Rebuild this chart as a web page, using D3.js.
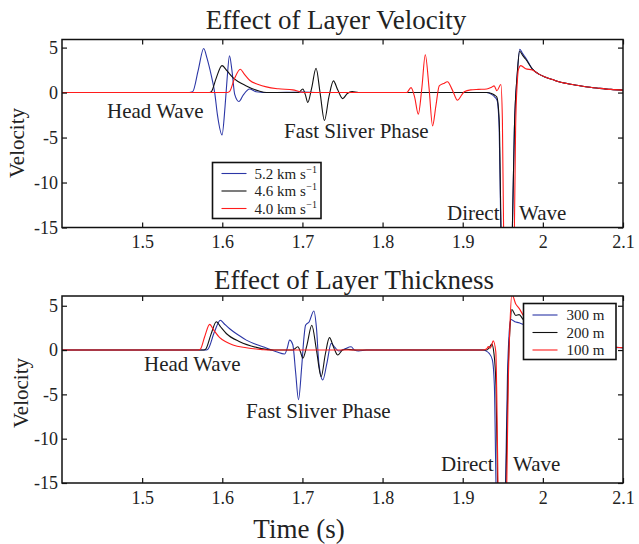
<!DOCTYPE html>
<html>
<head>
<meta charset="utf-8">
<script src="https://cdn.jsdelivr.net/npm/d3@7"></script>
<style>
  body { margin: 0; background: #fff; }
  #chart { width: 639px; height: 544px; }
  text { font-family: "Liberation Serif", "Times New Roman", serif; fill: #222; }
</style>
</head>
<body>
<div id="chart"></div>
<script>
//Colores fijos
const COLOR_BLUE = '#2b36a6',
COLOR_BLACK = '#111111',
COLOR_RED = '#ff1c1c';

//Ejes
const xTicks = [1.5, 1.6, 1.7, 1.8, 1.9, 2.0, 2.1];
const xTickLabels = ['1.5', '1.6', '1.7', '1.8', '1.9', '2', '2.1'];
const yTicks = [-15, -10, -5, 0, 5];
const yTickLabels = ['-15', '-10', '-5', '0', '5'];

//Panel 1: velocidad de la capa [tiempo, velocidad]
const velocityLabels = ['5.2 km s', '4.6 km s', '4.0 km s'];
const vel52 = [[1.40,0],[1.555,0],[1.563,0.1],[1.570,2.5],[1.5768,4.9],[1.581,3.8],[1.585,2.4],[1.588,1.2],[1.5905,0],
  [1.594,-2.5],[1.5997,-4.7],[1.6035,-1.5],[1.606,1.5],[1.609,4.1],[1.612,2.5],[1.6155,-0.2],[1.6208,-1.0],[1.626,-0.3],
  [1.634,0.4],[1.642,0.1],[1.66,0],[1.70,0.05],[1.72,0],[1.93,0],[1.936,-0.2],[1.940,-0.5],[1.943,-0.9],[1.9455,-4],
  [1.9475,-15],[1.955,-30],[1.962,-15],[1.9645,-4],[1.968,2],[1.9712,4.8],[1.975,4.3],[1.9787,3.85],[1.987,2.6],
  [1.995,2.05],[2.0036,1.7],[2.012,1.45],[2.02,1.2],[2.03,1.0],[2.04,0.85],[2.0534,0.65],[2.07,0.48],[2.085,0.35],[2.1,0.27]];
const vel46 = [[1.40,0],[1.584,0],[1.5864,0.1],[1.592,1.5],[1.5997,3.0],[1.606,2.4],[1.6133,1.67],[1.63,0.74],[1.645,0.2],
  [1.655,0],[1.695,0],[1.7005,0.4],[1.7035,-0.2],[1.7067,-1.1],[1.7115,0.5],[1.717,2.7],[1.722,0],[1.7275,-3.1],[1.733,-0.5],
  [1.7387,1.3],[1.744,0.3],[1.7503,-0.67],[1.756,-0.1],[1.762,0.1],[1.77,0],[1.93,0],[1.936,-0.1],[1.940,-0.3],[1.9425,-0.5],
  [1.9455,-3],[1.9478,-15],[1.955,-30],[1.962,-15],[1.9645,-4],[1.968,2],[1.971,4.6],[1.975,4.1],[1.9787,3.7],[1.987,2.6],
  [1.995,2.05],[2.0036,1.7],[2.012,1.45],[2.02,1.2],[2.03,1.0],[2.04,0.85],[2.0534,0.65],[2.07,0.48],[2.085,0.35],[2.1,0.27]];
const vel40 = [[1.40,0],[1.606,0],[1.609,0.1],[1.615,1.5],[1.6225,2.6],[1.627,2.1],[1.6341,1.37],[1.645,0.9],[1.655,0.63],
  [1.67,0.42],[1.688,0.3],[1.6964,0.1],[1.703,0],[1.83,0],[1.8355,0.55],[1.840,-0.5],[1.8446,-2.4],[1.849,0.5],[1.8533,4.2],
  [1.858,0.5],[1.8624,-3.7],[1.8665,-1.5],[1.8707,0.74],[1.876,1.0],[1.881,1.2],[1.887,0.3],[1.8935,-0.85],[1.8985,-0.3],
  [1.9019,0.1],[1.91,0.3],[1.92,0.35],[1.93,0.4],[1.936,0.6],[1.9392,0.75],[1.9426,0.2],[1.9476,0.9],[1.9495,-3],
  [1.951,-15],[1.958,-30],[1.9645,-15],[1.966,-4],[1.968,1],[1.9695,2.55],[1.9725,3.0],[1.9786,2.65],[1.987,2.5],
  [1.995,2.05],[2.0036,1.7],[2.012,1.45],[2.02,1.2],[2.03,1.0],[2.04,0.85],[2.0534,0.65],[2.07,0.48],[2.085,0.35],[2.1,0.27]];

//Panel 2: espesor de la capa [tiempo, velocidad]
const thicknessLabels = ['300 m', '200 m', '100 m'];
const thick300 = [[1.40,0],[1.58,0],[1.5822,0.1],[1.59,2.0],[1.5976,3.37],[1.602,3.0],[1.6092,2.4],[1.62,1.7],[1.63,1.12],
  [1.64,0.7],[1.6507,0.37],[1.66,0.05],[1.6674,-0.19],[1.6777,-0.45],[1.681,0.2],[1.684,1.12],[1.688,0.6],[1.6915,-2.5],
  [1.6951,-5.6],[1.699,-2],[1.702,1.5],[1.7039,2.8],[1.7085,3.2],[1.7142,4.4],[1.7175,2.5],[1.7205,-1.5],[1.7254,-3.37],
  [1.7305,-1.5],[1.7359,0.75],[1.7405,0.3],[1.7453,-0.1],[1.752,0.1],[1.7607,0.37],[1.765,0],[1.77,-0.1],[1.78,0],[1.925,0],
  [1.930,-0.15],[1.933,-0.37],[1.937,-1.1],[1.9395,-4],[1.9415,-15],[1.948,-30],[1.9535,-15],[1.9558,-3],[1.958,2],
  [1.96,3.45],[1.965,3.2],[1.9704,3.07],[1.975,2.9],[1.985,2.4],[1.995,1.9],[2.01,1.4],[2.03,0.95],[2.05,0.65],
  [2.07,0.45],[2.085,0.33],[2.1,0.27]];
const thick200 = [[1.40,0],[1.577,0],[1.5793,0.1],[1.586,1.8],[1.5926,3.2],[1.598,2.6],[1.605,1.87],[1.6217,0.94],[1.6425,0.3],
  [1.655,0.08],[1.665,0],[1.688,0],[1.6943,0.37],[1.6975,-0.2],[1.7005,-0.93],[1.7055,0.5],[1.7117,2.8],[1.7175,0],
  [1.7234,-3.0],[1.7285,-0.5],[1.7337,1.4],[1.739,0.3],[1.7441,-0.56],[1.75,0],[1.755,0.1],[1.765,0],[1.93,0],[1.9333,0.3],
  [1.9363,0.67],[1.939,-0.4],[1.9415,-4],[1.9435,-15],[1.949,-30],[1.954,-15],[1.9565,-3],[1.959,2.5],[1.9613,4.57],
  [1.9662,3.9],[1.9704,4.0],[1.975,3.5],[1.985,2.7],[1.995,2.1],[2.01,1.5],[2.03,1.0],[2.05,0.68],[2.07,0.46],
  [2.085,0.34],[2.1,0.27]];
const thick100 = [[1.40,0],[1.57,0],[1.5727,0.1],[1.578,1.5],[1.5843,2.9],[1.589,2.3],[1.5968,1.4],[1.605,0.9],[1.6133,0.56],
  [1.63,0.26],[1.65,0.05],[1.66,0],[1.925,0],[1.93,0.15],[1.932,0.4],[1.934,0.2],[1.936,0.5],[1.938,1.05],[1.9413,-0.2],
  [1.9425,-5],[1.944,-15],[1.950,-30],[1.955,-15],[1.957,-3],[1.959,3],[1.9613,6.3],[1.9662,5.2],[1.9704,4.7],[1.975,4.0],
  [1.985,2.9],[1.995,2.2],[2.01,1.55],[2.03,1.02],[2.05,0.7],[2.07,0.47],[2.085,0.35],[2.1,0.28]];

let svg = d3.select('#chart')
  .append('svg')
    .attr('width', 639)
    .attr('height', 544);

function drawPanel(p) {
  let x = d3.scaleLinear().domain([1.4, 2.1]).range([62, 623]);
  let y = d3.scaleLinear().domain(p.yDomain).range([p.bottom, p.top]);

  let g = svg.append('g');

  //Clip
  g.append('clipPath').attr('id', p.id)
    .append('rect')
      .attr('x', 62).attr('y', p.top)
      .attr('width', 561).attr('height', p.bottom - p.top);

  let line = d3.line()
    .x(function(d) { return x(d[0]); })
    .y(function(d) { return y(d[1]); })
    .curve(d3.curveMonotoneX);

  g.append('g').attr('clip-path', 'url(#' + p.id + ')')
    .selectAll('path')
    .data(p.series)
    .enter()
    .append('path')
      .attr('d', function(d) { return line(d.values); })
      .attr('fill', 'none')
      .attr('stroke', function(d) { return d.color; })
      .attr('stroke-width', 1.1);

  //Ejes (ticks hacia dentro en los cuatro lados)
  let tickLen = 5;
  g.append('g')
    .attr('transform', 'translate(0,' + p.bottom + ')')
    .call(d3.axisBottom(x).tickValues(xTicks).tickSize(-tickLen).tickPadding(8)
      .tickFormat(function(d, i) { return xTickLabels[i]; }))
    .call(styleAxis);
  g.append('g')
    .attr('transform', 'translate(0,' + p.top + ')')
    .call(d3.axisTop(x).tickValues(xTicks).tickSize(-tickLen).tickFormat(''))
    .call(styleAxis);
  g.append('g')
    .attr('transform', 'translate(62,0)')
    .call(d3.axisLeft(y).tickValues(yTicks).tickSize(-tickLen).tickPadding(4)
      .tickFormat(function(d, i) { return yTickLabels[i]; }))
    .call(styleAxis);
  g.append('g')
    .attr('transform', 'translate(623,0)')
    .call(d3.axisRight(y).tickValues(yTicks).tickSize(-tickLen).tickFormat(''))
    .call(styleAxis);

  g.append('rect')
    .attr('x', 62).attr('y', p.top)
    .attr('width', 561).attr('height', p.bottom - p.top)
    .attr('fill', 'none').attr('stroke', '#111').attr('stroke-width', 1.5);

  //Titulo
  g.append('text')
    .attr('x', p.titleX).attr('y', p.titleY)
    .attr('text-anchor', 'middle')
    .style('font-size', '27px')
    .text(p.title);

  //Etiqueta eje Y
  g.append('text')
    .attr('transform', 'translate(' + p.yLabelX + ',' + p.yLabelY + ') rotate(-90)')
    .attr('text-anchor', 'middle')
    .style('font-size', '21px')
    .text('Velocity');

  //Anotaciones
  g.selectAll('.note')
    .data(p.notes)
    .enter()
    .append('text')
      .attr('class', 'note')
      .attr('x', function(d) { return d.x; })
      .attr('y', function(d) { return d.y; })
      .style('font-size', '21px')
      .text(function(d) { return d.text; });

  //Leyenda
  let lg = g.append('g');
  lg.append('rect')
    .attr('x', p.legend.x).attr('y', p.legend.y)
    .attr('width', p.legend.w).attr('height', p.legend.h)
    .attr('fill', '#fff').attr('stroke', '#111').attr('stroke-width', 1.6);
  p.series.forEach(function(s, i) {
    let ly = p.legend.y + p.legend.row0 + i * p.legend.step;
    lg.append('line')
      .attr('x1', p.legend.x + 9).attr('x2', p.legend.x + 34)
      .attr('y1', ly).attr('y2', ly)
      .attr('stroke', s.color).attr('stroke-width', 1.1);
    let tx = p.legend.x + p.legend.textDx,
      ty = ly + p.legend.fs * 0.36;
    let t = lg.append('text')
      .attr('x', tx).attr('y', ty)
      .style('font-size', p.legend.fs + 'px')
      .text(s.label);
    if (p.legend.sup) {
      //exponente como texto aparte, pegado al final de la etiqueta
      let w = t.node().getComputedTextLength();
      lg.append('text')
        .attr('x', tx + w + 0.5).attr('y', ty - 6)
        .style('font-size', '10px')
        .text('\u22121');
    }
  });
}

function styleAxis(sel) {
  sel.select('.domain').remove();
  sel.selectAll('.tick line').attr('stroke', '#111').attr('stroke-width', 1.2);
  sel.selectAll('.tick text').style('font-size', '18px').attr('fill', '#222')
    .style('font-family', '"Liberation Serif", "Times New Roman", serif');
}

drawPanel({
  id: 'clipTop', top: 39.5, bottom: 227.5, yDomain: [-15, 5.9],
  title: 'Effect of Layer Velocity', titleX: 336, titleY: 29,
  yLabelX: 24, yLabelY: 143,
  series: [
    {label: velocityLabels[0], values: vel52, color: COLOR_BLUE},
    {label: velocityLabels[1], values: vel46, color: COLOR_BLACK},
    {label: velocityLabels[2], values: vel40, color: COLOR_RED}
  ],
  notes: [
    {text: 'Head Wave', x: 107, y: 118},
    {text: 'Fast Sliver Phase', x: 284, y: 138},
    {text: 'Direct', x: 447, y: 220},
    {text: 'Wave', x: 519, y: 220}
  ],
  legend: {x: 212.5, y: 162.5, w: 108.5, h: 56, row0: 11, step: 17.5, textDx: 42, fs: 15, sup: true}
});

drawPanel({
  id: 'clipBottom', top: 296, bottom: 483, yDomain: [-15, 6.1],
  title: 'Effect of Layer Thickness', titleX: 354, titleY: 289,
  yLabelX: 28, yLabelY: 393,
  series: [
    {label: thicknessLabels[0], values: thick300, color: COLOR_BLUE},
    {label: thicknessLabels[1], values: thick200, color: COLOR_BLACK},
    {label: thicknessLabels[2], values: thick100, color: COLOR_RED}
  ],
  notes: [
    {text: 'Head Wave', x: 144, y: 371},
    {text: 'Fast Sliver Phase', x: 246, y: 418},
    {text: 'Direct', x: 441, y: 471},
    {text: 'Wave', x: 513, y: 471}
  ],
  legend: {x: 523.5, y: 303.5, w: 92.5, h: 56, row0: 11.5, step: 17.5, textDx: 43, fs: 15, sup: false}
});

//Etiqueta eje X
svg.append('text')
  .attr('x', 299).attr('y', 538)
  .attr('text-anchor', 'middle')
  .style('font-size', '27px')
  .text('Time (s)');
</script>
</body>
</html>
